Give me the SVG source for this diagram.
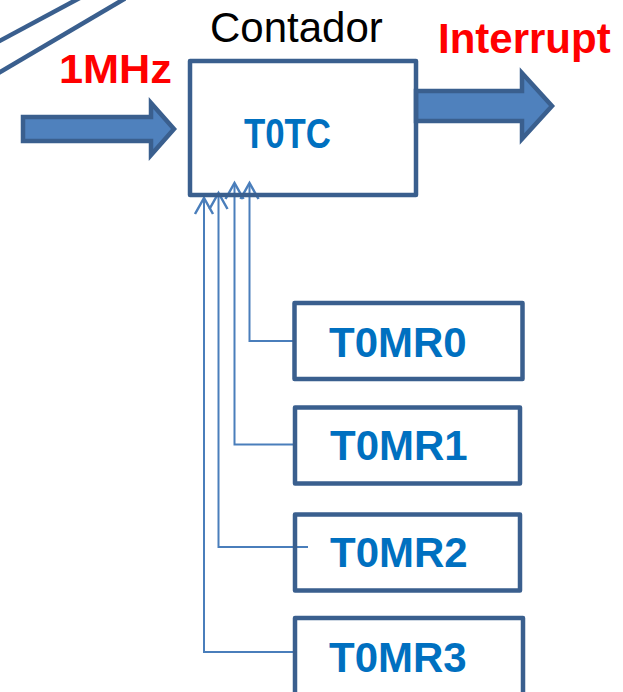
<svg xmlns="http://www.w3.org/2000/svg" width="623" height="692" viewBox="0 0 623 692">
<style>
.box{fill:#fff;stroke:#3A5F8E;stroke-width:4.5;stroke-linejoin:round}
.arrow{fill:#4F81BD;stroke:#3A5F8E;stroke-width:4.5;stroke-linejoin:miter}
.diag{stroke:#3A5F8E;stroke-width:4.5;fill:none}
.conn{fill:none;stroke:#4A7EBB;stroke-width:2}
.lbl{font-family:"Liberation Sans",Arial,sans-serif;font-weight:bold;font-size:42px;fill:#0070C0}
.red{font-family:"Liberation Sans",Arial,sans-serif;font-weight:bold;fill:#FF0000}
</style>
<defs>
<marker id="vhead" markerUnits="userSpaceOnUse" markerWidth="24" markerHeight="24" viewBox="-20 -12 24 24" refX="0" refY="0" orient="auto" overflow="visible">
<path d="M-16,-9 L0,0 L-16,9" fill="none" stroke="#4A7EBB" stroke-width="2.5"/>
</marker>
</defs>
<g id="decor">
<line class="diag" x1="-5" y1="43.4" x2="81" y2="-2.7"/>
<line class="diag" x1="-5" y1="75" x2="125" y2="-1.5"/>
</g>
<g id="input-arrow">
<path class="arrow" d="M23,117 L151,117 L151,103 L174,129 L151,155 L151,141 L23,141 Z"/>
<text class="red" x="59" y="83" font-size="40" textLength="113" lengthAdjust="spacingAndGlyphs">1MHz</text>
</g>
<g id="output-arrow">
<path class="arrow" d="M416,91 L522,91 L522,73 L552,106 L522,139 L522,121 L416,121 Z"/>
<text class="red" x="438" y="53" font-size="42">Interrupt</text>
</g>
<g id="connectors">
<polyline class="conn" points="295,652 204,652 204,198" marker-end="url(#vhead)"/>
<polyline class="conn" points="308,547 218.5,547 218.5,193" marker-end="url(#vhead)"/>
<polyline class="conn" points="295,444.5 234.5,444.5 234.5,183" marker-end="url(#vhead)"/>
<polyline class="conn" points="295,341 249.5,341 249.5,183" marker-end="url(#vhead)"/>
</g>
<g id="T0TC">
<text x="210" y="42" font-family="Liberation Sans, Arial, sans-serif" font-size="42" fill="#000">Contador</text>
<rect class="box" x="190" y="61" width="226" height="134" style="fill:none"/>
<text class="lbl" x="244" y="148" textLength="87" lengthAdjust="spacingAndGlyphs">T0TC</text>
</g>
<g id="T0MR0">
<rect class="box" x="294.5" y="303" width="228" height="76"/>
<text class="lbl" x="329" y="357">T0MR0</text>
</g>
<g id="T0MR1">
<rect class="box" x="295" y="407.5" width="225" height="76"/>
<text class="lbl" x="330" y="460">T0MR1</text>
</g>
<g id="T0MR2">
<rect class="box" x="295" y="514.5" width="225" height="76" style="fill:none"/>
<text class="lbl" x="330" y="567">T0MR2</text>
</g>
<g id="T0MR3">
<rect class="box" x="295" y="618" width="228" height="80"/>
<text class="lbl" x="329" y="672">T0MR3</text>
</g>
</svg>
